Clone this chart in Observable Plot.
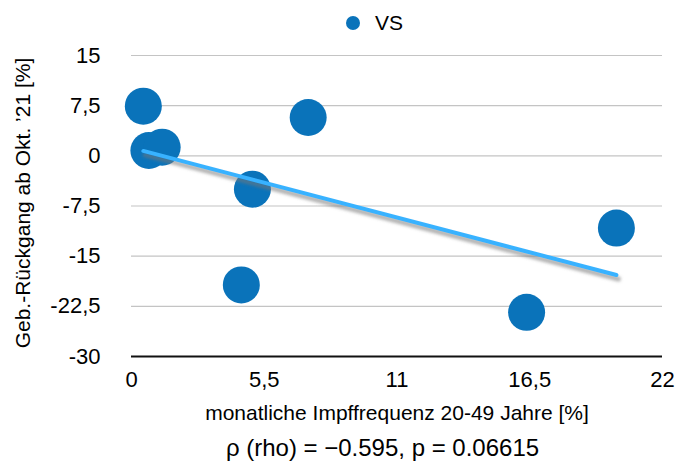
<!DOCTYPE html>
<html>
<head>
<meta charset="utf-8">
<script src="https://cdn.jsdelivr.net/npm/d3@7"></script>
<script src="https://cdn.jsdelivr.net/npm/@observablehq/plot@0.6"></script>
<style>
  html, body { margin: 0; padding: 0; background: #fff; }
  body { width: 677px; height: 465px; position: relative; overflow: hidden;
         font-family: "Liberation Sans", Arial, sans-serif; color: #000; }
  #legend { position: absolute; left: 0; top: 0; width: 677px; height: 46px; }
  #chart { position: absolute; left: 0; top: 40px; }
  #caption { position: absolute; left: 0; top: 428px; width: 677px; text-align: center;
             font-size: 24px; line-height: 40px; }
  #caption span { position: relative; left: 44px; }
</style>
</head>
<body>
<div id="legend"></div>
<div id="chart"></div>
<div id="caption"><span>ρ (rho) = −0.595, p = 0.06615</span></div>
<script>
// ---- data ----
const seriesName = "VS";
const impffrequenz = [0.49, 0.72, 1.27, 7.32, 5.01, 4.55, 16.37, 20.09];
const rueckgang    = [7.42, 0.80, 1.29, 5.73, -4.99, -19.3, -23.4, -10.8];
const xTicks = [0, 5.5, 11, 16.5, 22];
const yTicks = [15, 7.5, 0, -7.5, -15, -22.5, -30];
const xTitle = "monatliche Impffrequenz 20-49 Jahre [%]";
const yTitle = "Geb.-Rückgang ab Okt. ’21 [%]";

const data = impffrequenz.map((x, i) => ({x, y: rueckgang[i]}));
const fmt = d => String(d).replace(".", ",");

const blue = "#0A73BA";
const trend = "#38B2FF";

// legend
document.getElementById("legend").innerHTML =
  `<svg width="677" height="46" style="display:block">
     <circle cx="353" cy="23" r="7" fill="${blue}"></circle>
     <text x="375" y="23" dy="0.35em" font-size="21" font-family="Liberation Sans, Arial, sans-serif">${seriesName}</text>
   </svg>`;

const chart = Plot.plot({
  width: 677,
  height: 390,
  marginTop: 15,
  marginBottom: 74,
  marginLeft: 131,
  marginRight: 15,
  style: {fontFamily: "Liberation Sans, Arial, sans-serif", fontSize: "22px", color: "#000", background: "#fff"},
  x: {domain: [0, 22], ticks: xTicks, tickFormat: fmt, tickSize: 0, tickPadding: 15, label: null},
  y: {domain: [-30, 15], ticks: yTicks, tickFormat: fmt, tickSize: 0, tickPadding: 31, label: null},
  marks: [
    Plot.ruleY(yTicks.filter(d => d !== -30), {stroke: "#c4c4c4", strokeWidth: 1.2}),
    Plot.ruleY([-30], {stroke: "#111", strokeWidth: 2.2}),
    Plot.axisX({ticks: xTicks, tickFormat: fmt, tickSize: 0, tickPadding: 15, fontSize: 22}),
    Plot.axisY({ticks: yTicks, tickFormat: fmt, tickSize: 0, tickPadding: 31, fontSize: 22}),
    Plot.dot(data, {x: "x", y: "y", r: 18.5, fill: blue, stroke: "none"}),
    Plot.linearRegressionY(data, {x: "x", y: "y", stroke: "#777", strokeOpacity: 0.55, strokeWidth: 5, ci: 0, dx: 2, dy: 4}),
    Plot.linearRegressionY(data, {x: "x", y: "y", stroke: trend, strokeWidth: 4, ci: 0}),
    Plot.text([xTitle], {frameAnchor: "bottom", dy: 63, text: d => d, fontSize: 21, fill: "#000"}),
    Plot.text([yTitle], {frameAnchor: "left", textAnchor: "middle", dx: -108, dy: -3, rotate: -90, text: d => d, fontSize: 21, fill: "#000"})
  ]
});
document.getElementById("chart").appendChild(chart);

// soft shadow under the trend line
const svg = d3.select(chart.tagName.toLowerCase() === "svg" ? chart : chart.querySelector("svg"));
const defs = svg.insert("defs", ":first-child");
defs.append("filter").attr("id", "shadowBlur").attr("x", "-10%").attr("y", "-50%").attr("width", "120%").attr("height", "200%")
  .append("feGaussianBlur").attr("stdDeviation", 1.8);
const regs = svg.selectAll('g[aria-label="linear-regression"]').nodes();
if (regs.length >= 2) d3.select(regs[0]).attr("filter", "url(#shadowBlur)");
</script>
</body>
</html>
